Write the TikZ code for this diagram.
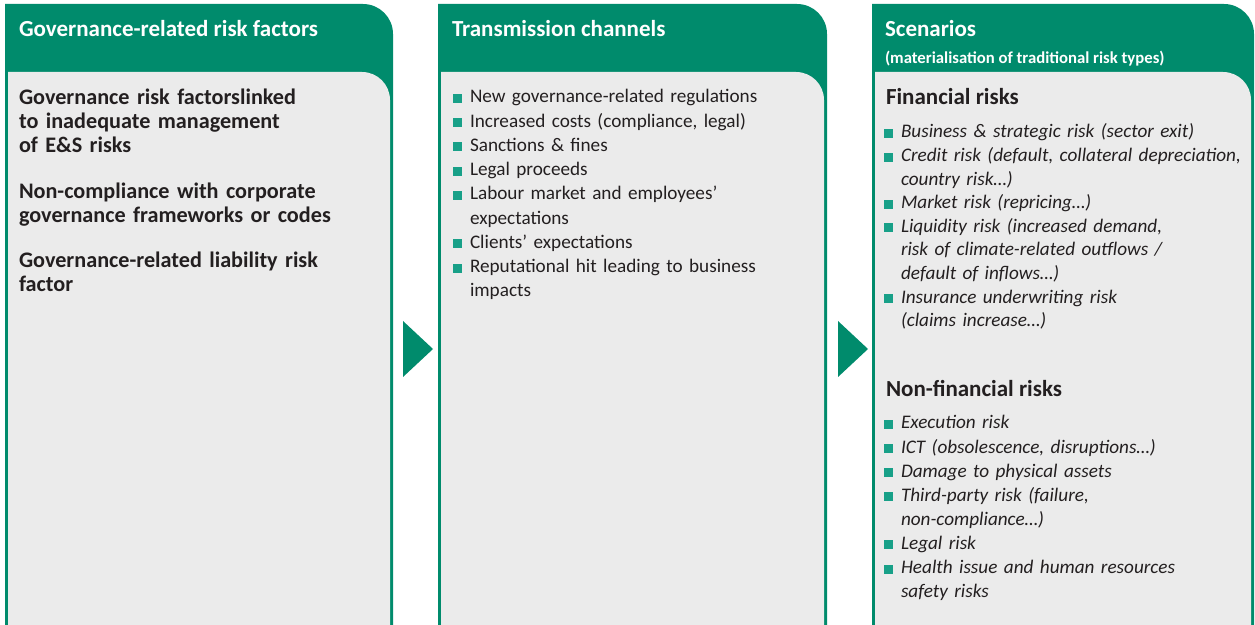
\documentclass[tikz,border=0pt]{standalone}
\usepackage{fontspec}
\setmainfont{Carlito}
\definecolor{hdr}{RGB}{0,139,108}
\definecolor{panelgrey}{RGB}{235,235,235}
\definecolor{bul}{RGB}{24,160,136}
\definecolor{ink}{RGB}{35,31,32}
\newcommand\bsq{\textcolor{bul}{\rule{9pt}{9pt}}}
\newcommand\bitem[1]{\noindent\makebox[17pt][l]{\bsq}#1\par}
\newcommand\cont{\\\hspace*{17pt}}
\tikzset{
  every node/.style={inner sep=0pt, outer sep=0pt},
  hdrtext/.style={anchor=base west, text=white, font=\bfseries\fontsize{23}{24}\selectfont},
  subtext/.style={anchor=base west, text=white, font=\bfseries\fontsize{16.7}{18}\selectfont},
  factor/.style={anchor=base west, text=ink, text width=370pt, font=\bfseries\fontsize{22.2}{24}\selectfont, align=left},
  subhead/.style={anchor=base west, text=ink, font=\bfseries\fontsize{23}{24}\selectfont},
  chanlist/.style={anchor=base west, text=ink, text width=370pt, font=\fontsize{19.2}{24.25}\selectfont},
  finlist/.style={anchor=base west, text=ink, text width=370pt, font=\itshape\fontsize{19.2}{23.6}\selectfont},
  nflist/.style={anchor=base west, text=ink, text width=370pt, font=\itshape\fontsize{19.2}{24.1}\selectfont},
  arrowtri/.style={fill=hdr}
}
\begin{document}
\begin{tikzpicture}[x=1pt,y=1pt]
\useasboundingbox (0,0) rectangle (1255,624);
% panels
\foreach \xa/\xb in {5/393, 438/827, 872/1254}{
  \fill[hdr] (\xa,-20) -- (\xa,620) -- ({\xb-30},620) arc[start angle=90,end angle=0,radius=30pt] -- (\xb,-20) -- cycle;
  \fill[panelgrey] ({\xa+3},-20) -- ({\xa+3},552) -- ({\xb-31},552) arc[start angle=90,end angle=0,radius=28pt] -- ({\xb-3},-20) -- cycle;
}
% arrows
\fill[arrowtri] (403,303) -- (433,275) -- (403,247) -- cycle;
\fill[arrowtri] (838,303) -- (868,275) -- (838,247) -- cycle;
% headers
\node[hdrtext] (h1) at (19,587) {Governance-related risk factors};
\node[hdrtext] (h2) at (452,587) {Transmission channels};
\node[hdrtext] (h3) at (885,587) {Scenarios};
\node[subtext] (h3s) at (885,560) {(materialisation of traditional risk types)};
% panel 1
\node[factor] (f1) at (19,519) {Governance risk factorslinked\\to inadequate management\\of E\&S risks};
\node[factor] (f2) at (19,425) {Non-compliance with corporate\\governance frameworks or codes};
\node[factor] (f3) at (19,356) {Governance-related liability risk\\factor};
% panel 2
\node[chanlist] (ch) at (453,521) {%
\bitem{New governance-related regulations}%
\bitem{Increased costs (compliance, legal)}%
\bitem{Sanctions \& fines}%
\bitem{Legal proceeds}%
\bitem{Labour market and employees’\cont expectations}%
\bitem{Clients’ expectations}%
\bitem{Reputational hit leading to business\cont impacts}};
% panel 3
\node[subhead] (fin) at (886,519) {Financial risks};
\node[finlist] (finl) at (884,486) {%
\bitem{Business \& strategic risk (sector exit)}%
\bitem{Credit risk (default, collateral depreciation,\cont country risk…)}%
\bitem{Market risk (repricing…)}%
\bitem{Liquidity risk (increased demand,\cont risk of climate-related outflows /\cont default of inflows…)}%
\bitem{Insurance underwriting risk\cont (claims increase…)}};
\node[subhead] (nfin) at (886,227) {Non-financial risks};
\node[nflist] (nfinl) at (884,195) {%
\bitem{Execution risk}%
\bitem{ICT (obsolescence, disruptions…)}%
\bitem{Damage to physical assets}%
\bitem{Third-party risk (failure,\cont non-compliance…)}%
\bitem{Legal risk}%
\bitem{Health issue and human resources\cont safety risks}};
\end{tikzpicture}
\end{document}
